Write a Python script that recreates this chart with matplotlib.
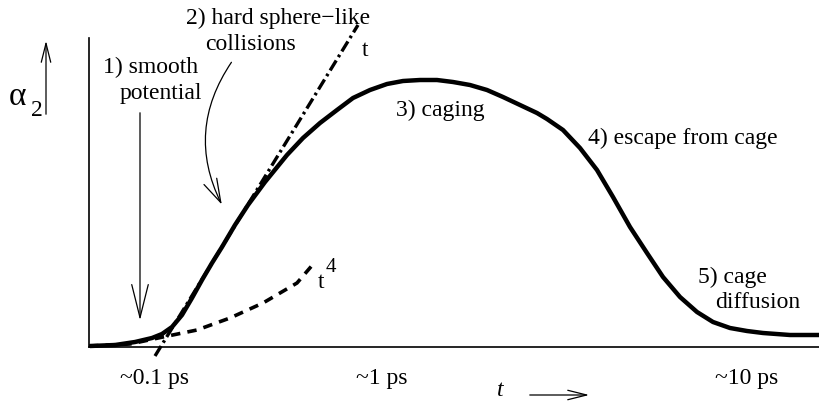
import numpy as np
import matplotlib.pyplot as plt

plt.rcParams['font.family'] = ['Liberation Serif', 'DejaVu Serif']
plt.rcParams['font.size'] = 17

# schematic alpha_2(t); x, y in units of pixels from the axis origin
curve_x = [1, 26, 46, 63, 73, 83, 93, 103, 113, 123, 133, 146, 159, 176, 198, 214,
           231, 248, 264, 281, 298, 314, 331, 348, 364, 381, 398, 414, 431, 448,
           458, 474, 491, 508, 524, 541, 558, 574, 591, 608, 624, 641, 658, 674, 701, 730]
curve_y = [1, 2, 5, 9, 13, 20, 32, 49, 67, 84, 100, 122, 142, 165, 192, 209,
           224, 237, 249, 257, 263, 266, 267, 267, 265, 262, 257, 250, 242, 234,
           228, 217, 199, 177, 150, 120, 94, 70, 50, 35, 25, 19, 16, 14, 12, 12]

# short time t^4 regime
t4_x = [0, 41, 74, 108, 141, 174, 208, 226]
t4_y = [1, 3, 10, 17, 29, 44, 64, 85]

# ballistic-like t regime
tl_x = [66, 269]
tl_y = [-9, 322]

tick_pos = [66, 293, 658]
tick_lab = ['~0.1 ps', '~1 ps', '~10 ps']

fig = plt.figure(figsize=(8.19, 4.03), dpi=100)
ax = fig.add_axes([89/819, 56/403, 730/819, 309/403])
ax.set_xlim(0, 730)
ax.set_ylim(0, 309)
for s in ['top', 'right']:
    ax.spines[s].set_visible(False)
for s in ['left', 'bottom']:
    ax.spines[s].set_linewidth(1.2)
ax.set_yticks([])
ax.set_xticks(tick_pos)
ax.set_xticklabels(tick_lab)
ax.tick_params(axis='x', length=0, pad=15)

ax.plot(curve_x, curve_y, color='black', lw=3.2, solid_joinstyle='round',
        solid_capstyle='butt', clip_on=False, zorder=3)
ax.plot(t4_x, t4_y, color='black', lw=2.6, ls=(0, (2.6, 2)), clip_on=False)
ax.plot(tl_x, tl_y, color='black', lw=2.4, ls=(0, (3.5, 1.2, 0.8, 1.2)), clip_on=False)

txt = dict(ha='center', va='center', clip_on=False)
ax.text(62, 280, '1) smooth', **txt)
ax.text(72, 254, 'potential', **txt)
ax.text(189, 329, '2) hard sphere\u2212like', **txt)
ax.text(161, 302, 'collisions', **txt)
ax.text(276, 297, 't', **txt)
ax.text(351, 237, '3) caging', **txt)
ax.text(594, 209, '4) escape from cage', **txt)
ax.text(643, 70, '5) cage', **txt)
ax.text(669, 44, 'diffusion', **txt)
ax.text(232, 65, 't', **txt)
ax.text(242, 80, '4', fontsize=15, **txt)
ax.text(-71, 250, '\u03b1', fontsize=24, **txt)
ax.text(-52, 237, '2', **txt)
ax.text(411, -44, 't', style='italic', **txt)

arw = dict(arrowstyle='->, head_length=1.4, head_width=0.35', color='black', lw=0.9)
ax.annotate('', xy=(51, 24), xytext=(51, 237), arrowprops=arw, annotation_clip=False)
ax.annotate('', xy=(134, 140), xytext=(144, 287),
            arrowprops=dict(arrowstyle='->, head_length=1.0, head_width=0.3', color='black', lw=0.9,
                            connectionstyle='arc3,rad=0.3'), annotation_clip=False)
ax.annotate('', xy=(-43, 309), xytext=(-43, 230),
            arrowprops=dict(arrowstyle='->, head_length=0.8, head_width=0.2', color='black', lw=0.9),
            annotation_clip=False)
ax.annotate('', xy=(503, -48), xytext=(438, -48),
            arrowprops=dict(arrowstyle='->, head_length=0.8, head_width=0.2', color='black', lw=0.9),
            annotation_clip=False)

plt.savefig('out.png', dpi=100)
